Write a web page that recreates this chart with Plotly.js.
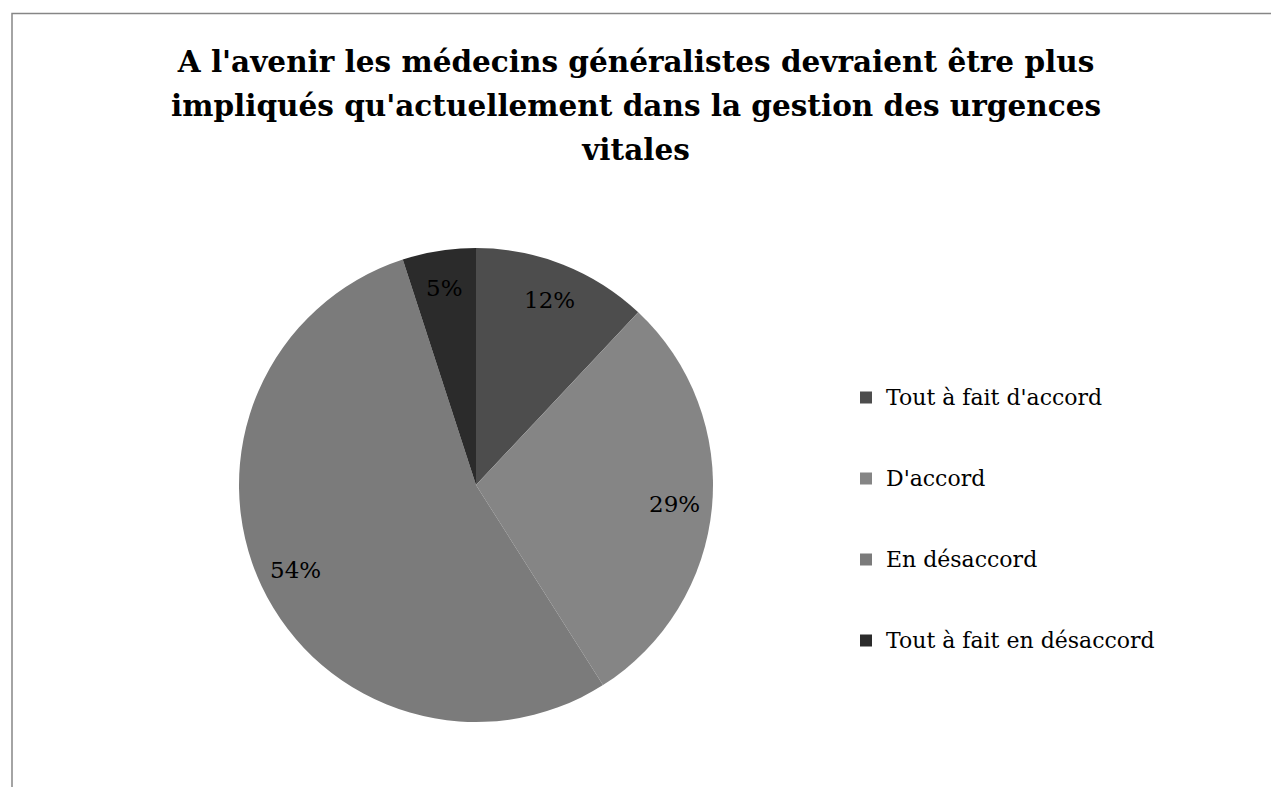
<!DOCTYPE html>
<html>
<head>
<meta charset="utf-8">
<script src="https://cdn.plot.ly/plotly-3.0.1.min.js"></script>
<style>html,body{margin:0;padding:0;background:#fff;}#chart{width:1271px;height:787px;}</style>
</head>
<body>
<div id="chart"></div>
<script>
const titleLines = ["A l'avenir les médecins généralistes devraient être plus", "impliqués qu'actuellement dans la gestion des urgences", "vitales"];
const categories = ["Tout à fait d'accord", "D'accord", "En désaccord", "Tout à fait en désaccord"];
const values = [12, 29, 54, 5];
const colors = ["#4d4d4d", "#858585", "#7b7b7b", "#2b2b2b"];

const legendLabels = categories.map(c => ' <br><span style="font-size:22px">' + c + '</span><br> ');
const titleText = titleLines.map(l => '<span style="font-size:29.5px">' + l + '</span>').join('<br>');

const W = 1271, H = 787;
const cx = 476, cy = 485, R = 237;
const labelRadius = 0.84;

const trace = {
  type: 'pie',
  labels: legendLabels,
  values: values,
  sort: false,
  direction: 'clockwise',
  rotation: 0,
  marker: {colors: colors, line: {width: 0}},
  textinfo: 'none',
  hoverinfo: 'skip',
  domain: {x: [(cx - R) / W, (cx + R) / W], y: [1 - (cy + R) / H, 1 - (cy - R) / H]}
};

// percentage labels placed along each slice's mid angle (Excel "best fit" style)
const total = values.reduce((a, b) => a + b, 0);
let cum = 0;
const annotations = values.map(v => {
  const mid = (cum + v / 2) / total * 2 * Math.PI;
  cum += v;
  const px = cx + labelRadius * R * Math.sin(mid);
  const py = cy - labelRadius * R * Math.cos(mid);
  return {
    xref: 'paper', yref: 'paper', x: px / W, y: 1 - py / H,
    xanchor: 'center', yanchor: 'middle', showarrow: false,
    text: Math.round(v / total * 100) + '%',
    font: {family: 'DejaVu Serif', size: 23, color: '#000'}
  };
});

const layout = {
  width: W, height: H,
  margin: {l: 0, r: 0, t: 0, b: 0},
  paper_bgcolor: '#fff',
  font: {family: 'DejaVu Serif', color: '#000'},
  title: {
    text: titleText,
    font: {family: 'DejaVu Serif', size: 34, color: '#000', weight: 'bold'},
    x: 636 / W, xanchor: 'center',
    y: 1 - 72 / H, yanchor: 'top', yref: 'container'
  },
  showlegend: true,
  legend: {
    x: 846 / W, xanchor: 'left',
    y: 1 - 519 / H, yanchor: 'middle',
    font: {family: 'DejaVu Serif', size: 20, color: '#000'},
    valign: 'middle',
    bgcolor: 'rgba(0,0,0,0)'
  },
  annotations: annotations,
  shapes: [{
    type: 'rect', xref: 'paper', yref: 'paper',
    x0: 12 / W, x1: 1.05, y0: -0.05, y1: 1 - 13.5 / H,
    line: {color: '#868686', width: 1.5}
  }]
};

Plotly.newPlot('chart', [trace], layout, {staticPlot: true, displayModeBar: false});
</script>
</body>
</html>
